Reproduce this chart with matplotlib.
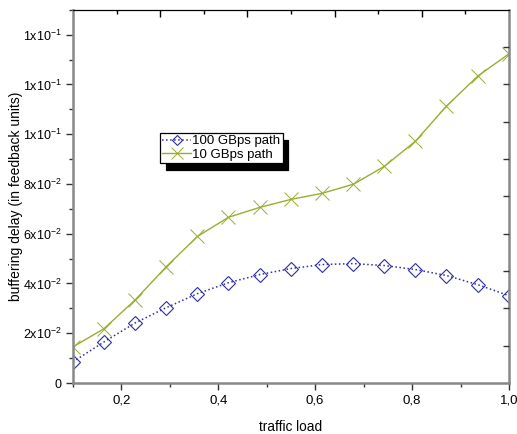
import numpy as np
import matplotlib
matplotlib.use('Agg')
import matplotlib.pyplot as plt
from matplotlib.ticker import MultipleLocator

plt.rcParams['font.family'] = ['Liberation Sans', 'DejaVu Sans']

# traffic load (15 points)
load = [0.1, 0.164, 0.229, 0.293, 0.357, 0.421, 0.486, 0.55,
        0.614, 0.679, 0.743, 0.807, 0.871, 0.936, 1.0]
path_100 = [0.0085, 0.0165, 0.0242, 0.0303, 0.0359, 0.0403, 0.0436, 0.0460,
            0.0476, 0.0480, 0.0472, 0.0456, 0.0432, 0.0395, 0.0351]
path_10 = [0.0145, 0.0218, 0.0335, 0.0468, 0.0589, 0.0666, 0.0706, 0.0738,
           0.0762, 0.0799, 0.0871, 0.0972, 0.1113, 0.1234, 0.1323]

ytick_vals = [0, 0.02, 0.04, 0.06, 0.08, 0.10, 0.12, 0.14]
ytick_labels = ['0', r'$\mathregular{2x10^{-2}}$', r'$\mathregular{4x10^{-2}}$',
                r'$\mathregular{6x10^{-2}}$', r'$\mathregular{8x10^{-2}}$',
                r'$\mathregular{1x10^{-1}}$', r'$\mathregular{1x10^{-1}}$',
                r'$\mathregular{1x10^{-1}}$']
xtick_vals = [0.2, 0.4, 0.6, 0.8, 1.0]
xtick_labels = ['0,2', '0,4', '0,6', '0,8', '1,0']

blue = '#2e2ea8'
green = '#9cad2e'

fig = plt.figure(figsize=(5.17, 4.34), dpi=100)
ax = fig.add_axes([0.141, 0.1175, 0.8435, 0.86])

ax.plot(load, path_100, ':', color=blue, lw=1.1, marker='D', ms=7,
        mfc='none', mew=0.8, label='100 GBps path')
ax.plot(load, path_10, '-', color=green, lw=1.0, marker='x', ms=10,
        mew=0.7, label='10 GBps path')

ax.set_xlim(0.1, 1.0)
ax.set_ylim(0, 0.15)
ax.set_xticks(xtick_vals)
ax.set_xticklabels(xtick_labels, fontsize=9.5)
ax.set_yticks(ytick_vals)
ax.set_yticklabels(ytick_labels, fontsize=9)
ax.xaxis.set_minor_locator(MultipleLocator(0.1))
ax.yaxis.set_minor_locator(MultipleLocator(0.01))
ax.tick_params(which='major', direction='out', length=5, width=1, color='#333333',
               pad=3)
ax.tick_params(which='minor', direction='out', length=3, width=1, color='#333333')

for s in ['left', 'bottom', 'right']:
    ax.spines[s].set_color('#888888')
    ax.spines[s].set_linewidth(1.8)
ax.spines['top'].set_color('black')
ax.spines['top'].set_linewidth(0.9)

# secondary frame ticks (top and right, pointing inward)
axt = ax.twiny()
axt.set_xlim(0, 10)
axt.set_xticks([2, 4, 6, 8])
axt.set_xticks([1, 3, 5, 7, 9], minor=True)
axt.tick_params(which='major', direction='in', length=5, width=1, labeltop=False)
axt.tick_params(which='minor', direction='in', length=3, width=1)
axr = ax.twinx()
axr.set_ylim(0, 10)
axr.set_yticks(range(1, 10))
axr.tick_params(direction='in', length=4, width=1, labelright=False, color='#333333')
for a in (axt, axr):
    for s in a.spines.values():
        s.set_visible(False)

ax.set_xlabel('traffic load', fontsize=9.8, labelpad=10)
ax.set_ylabel('buffering delay (in feedback units)', fontsize=10)
ax.yaxis.set_label_coords(-0.115, 0.5)

leg = ax.legend(loc='upper left', bbox_to_anchor=(0.2, 0.67), borderaxespad=0,
                fontsize=9.5, frameon=True, fancybox=False, handlelength=2.2,
                handletextpad=0.1, labelspacing=0.1, borderpad=0.15,
                markerscale=0.8,
                shadow={'ox': 4, 'oy': -5, 'color': 'black', 'alpha': 1})
leg.get_frame().set_edgecolor('black')
leg.get_frame().set_linewidth(0.9)
leg.set_zorder(5)

fig.savefig('out.png', dpi=100)
